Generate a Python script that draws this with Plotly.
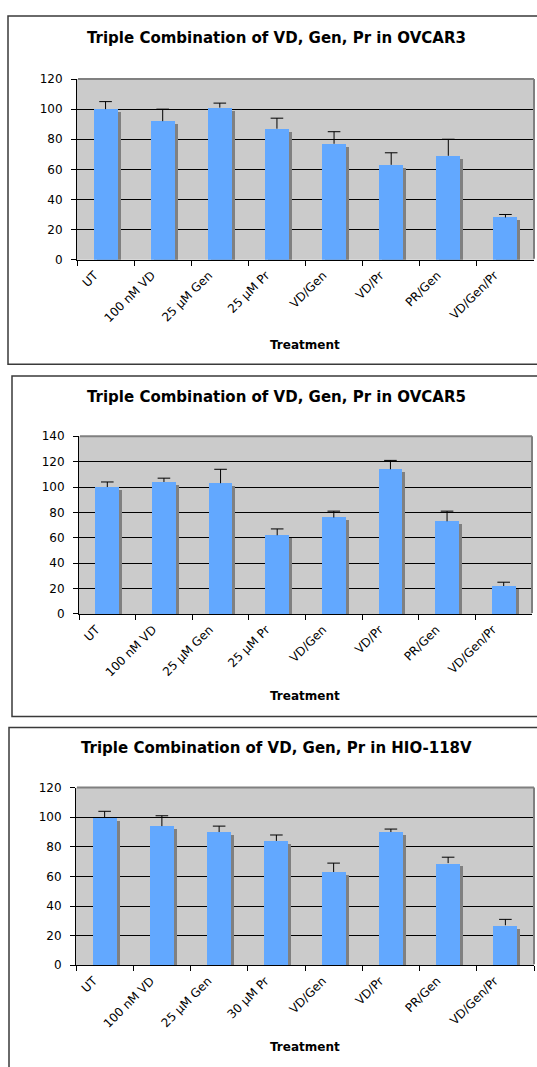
import plotly.graph_objects as go

# ---------------- data ----------------
categories_ovcar3 = ["UT", "100 nM VD", "25 µM Gen", "25 µM Pr", "VD/Gen", "VD/Pr", "PR/Gen", "VD/Gen/Pr"]
categories_ovcar5 = ["UT", "100 nM VD", "25 µM Gen", "25 µM Pr", "VD/Gen", "VD/Pr", "PR/Gen", "VD/Gen/Pr"]
categories_hio = ["UT", "100 nM VD", "25 µM Gen", "30 µM Pr", "VD/Gen", "VD/Pr", "PR/Gen", "VD/Gen/Pr"]

values_ovcar3 = [100, 92, 101, 87, 77, 63, 69, 28]
errors_ovcar3 = [5, 8, 3, 7, 8, 8, 11, 2]

values_ovcar5 = [100, 104, 103, 62, 76, 114, 73, 22]
errors_ovcar5 = [4, 3, 11, 5, 5, 7, 8, 3]

values_hio = [100, 94, 90, 84, 63, 90, 69, 27]
errors_hio = [4, 7, 4, 4, 6, 2, 4, 4]

titles = [
    "Triple Combination of VD, Gen, Pr in OVCAR3",
    "Triple Combination of VD, Gen, Pr in OVCAR5",
    "Triple Combination of VD, Gen, Pr in HIO-118V",
]
y_max = [120, 140, 120]
x_title = "Treatment"

# ---------------- layout (pixels) ----------------
W, H = 537, 1067
panels = [
    dict(plot=(77, 73, 534, 256), frame=(8, 9, 545, 362), title_y=31, xtitle_y=342),
    dict(plot=(79, 435, 532, 615), frame=(12, 374, 545, 719), title_y=395, xtitle_y=698),
    dict(plot=(76, 791, 534, 971), frame=(9, 730, 545, 1075), title_y=751, xtitle_y=1054),
]
datasets = [
    (categories_ovcar3, values_ovcar3, errors_ovcar3),
    (categories_ovcar5, values_ovcar5, errors_ovcar5),
    (categories_hio, values_hio, errors_hio),
]

BAR_BLUE = "#62A8FF"
SHADOW = "#808080"
PLOT_BG = "#CBCBCB"
FONT = "DejaVu Sans"
BAR_W = 0.42
SHADOW_PX = 3

fig = go.Figure()

def px_x(p):
    return p / W

def px_y(p):
    return 1 - p / H

shapes = []
annotations = []
layout_axes = {}

for k, (panel, (cats, vals, errs), ymax, title) in enumerate(zip(panels, datasets, y_max, titles)):
    sfx = "" if k == 0 else str(k + 1)
    xa, ya = "x" + sfx, "y" + sfx
    x0, y0, x1, y1 = panel["plot"]
    plot_w, plot_h = x1 - x0, y1 - y0
    cat_px = plot_w / len(cats)
    dx = SHADOW_PX / cat_px
    dy = SHADOW_PX * ymax / plot_h

    # shadow bars
    fig.add_trace(go.Bar(
        x=cats, y=[v - dy for v in vals], xaxis=xa, yaxis=ya,
        width=BAR_W, offset=-BAR_W / 2 + dx,
        marker=dict(color=SHADOW, line=dict(width=0)),
        showlegend=False, hoverinfo="skip",
    ))
    # main bars
    fig.add_trace(go.Bar(
        x=cats, y=vals, xaxis=xa, yaxis=ya,
        width=BAR_W, offset=-BAR_W / 2,
        marker=dict(color=BAR_BLUE, line=dict(width=0)),
        showlegend=False,
    ))
    # error bars (upper only)
    ex, ey = [], []
    for c, v, e in zip(cats, vals, errs):
        ex += [c, c, None]
        ey += [v, v + e, None]
    fig.add_trace(go.Scatter(
        x=ex, y=ey, xaxis=xa, yaxis=ya, mode="lines",
        line=dict(color="black", width=1), showlegend=False, hoverinfo="skip",
    ))
    fig.add_trace(go.Scatter(
        x=cats, y=[v + e for v, e in zip(vals, errs)], xaxis=xa, yaxis=ya,
        mode="markers",
        marker=dict(symbol="line-ew-open", size=9, color="black",
                    line=dict(color="black", width=1)),
        showlegend=False, hoverinfo="skip",
    ))

    layout_axes["xaxis" + sfx] = dict(
        domain=[px_x(x0), px_x(x1)], anchor=ya, type="category",
        range=[-0.5, len(cats) - 0.5], tickson="boundaries",
        ticks="outside", ticklen=5, tickcolor="black", tickwidth=1,
        showline=True, linecolor="black", linewidth=1,
        showgrid=False, tickangle=-45,
        ticklabelshift=-11, ticklabelstandoff=3,
        tickfont=dict(family=FONT, size=12, color="black"),
        fixedrange=True,
    )
    layout_axes["yaxis" + sfx] = dict(
        domain=[px_y(y1), px_y(y0)], anchor=xa,
        range=[0, ymax], dtick=20, tick0=0,
        ticks="outside", ticklen=5, tickcolor="black", tickwidth=1,
        showline=True, linecolor="black", linewidth=1,
        showgrid=True, gridcolor="black", gridwidth=1, zeroline=False,
        ticklabelstandoff=6,
        tickfont=dict(family=FONT, size=12, color="black"),
        fixedrange=True,
    )

    # plot area background
    shapes.append(dict(
        type="rect", xref="paper", yref="paper", layer="below",
        x0=px_x(x0), x1=px_x(x1), y0=px_y(y1), y1=px_y(y0),
        fillcolor=PLOT_BG, line=dict(width=0),
    ))
    # gray top and right border of plot area
    shapes.append(dict(
        type="line", xref="paper", yref="paper", layer="above",
        x0=px_x(x0 + 1), x1=px_x(x1), y0=px_y(y0), y1=px_y(y0),
        line=dict(color=SHADOW, width=2),
    ))
    shapes.append(dict(
        type="line", xref="paper", yref="paper", layer="above",
        x0=px_x(x1), x1=px_x(x1), y0=px_y(y0), y1=px_y(y1 - 1),
        line=dict(color=SHADOW, width=2),
    ))
    # outer chart frame
    fx0, fy0, fx1, fy1 = panel["frame"]
    shapes.append(dict(
        type="rect", xref="paper", yref="paper", layer="below",
        x0=px_x(fx0), x1=px_x(fx1), y0=px_y(fy1), y1=px_y(fy0),
        line=dict(color="#3a3a3a", width=1.5), fillcolor="rgba(0,0,0,0)",
    ))

    annotations.append(dict(
        text=title, xref="paper", yref="paper", x=px_x(276), y=px_y(panel["title_y"]),
        xanchor="center", yanchor="middle", showarrow=False,
        font=dict(family=FONT, size=15, color="black", weight="bold"),
    ))
    annotations.append(dict(
        text=x_title, xref="paper", yref="paper", x=px_x(305), y=px_y(panel["xtitle_y"]),
        xanchor="center", yanchor="middle", showarrow=False,
        font=dict(family=FONT, size=12, color="black", weight="bold"),
    ))

fig.update_layout(
    width=W, height=H, autosize=False,
    margin=dict(l=0, r=0, t=0, b=0),
    paper_bgcolor="white", plot_bgcolor="rgba(0,0,0,0)",
    barmode="overlay", bargap=0,
    shapes=shapes, annotations=annotations,
    font=dict(family=FONT, color="black"),
    **layout_axes,
)

fig.write_html(
    "out.html",
    config={"displayModeBar": False},
    post_script="document.body.style.margin='0';document.body.style.overflow='hidden';",
)
